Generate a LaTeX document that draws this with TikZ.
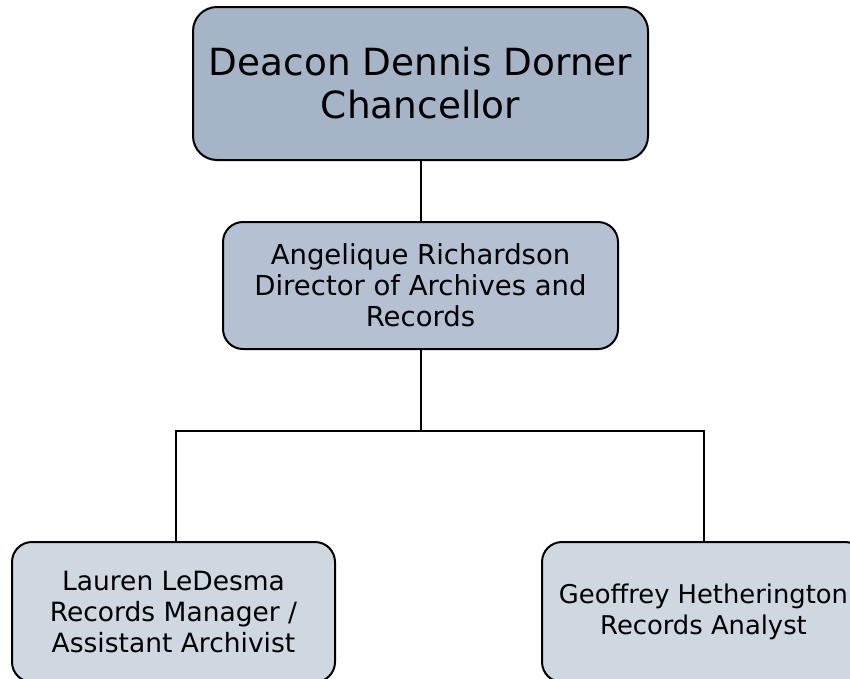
\documentclass[tikz,border=0pt]{standalone}
\usepackage{fontspec}
\setmainfont{DejaVu Sans}
\definecolor{topfill}{RGB}{166,180,200}
\definecolor{midfill}{RGB}{181,193,210}
\definecolor{lowfill}{RGB}{207,215,225}
\begin{document}
\begin{tikzpicture}[x=1pt,y=-1pt,
  box/.style={draw=black,line width=2pt,rounded corners=24pt,align=center,inner sep=0pt},
  conn/.style={draw=black,line width=2pt}]
\useasboundingbox (0,0) rectangle (850,678);
\clip (0,0) rectangle (850,678);
\node[box,fill=topfill,minimum width=455pt,minimum height=153pt,font=\fontsize{37.4}{43}\selectfont] (top) at (420.5,83.5) {Deacon Dennis Dorner\\Chancellor};
\node[box,fill=midfill,minimum width=395pt,minimum height=127pt,rounded corners=20pt,font=\fontsize{27.5}{31}\selectfont] (mid) at (420.5,285.5) {Angelique Richardson\\Director of Archives and\\Records};
\node[box,fill=lowfill,minimum width=323pt,minimum height=140pt,rounded corners=20pt,font=\fontsize{26.5}{31}\selectfont] (left) at (173.5,612) {Lauren LeDesma\\Records Manager /\\Assistant Archivist};
\node[box,fill=lowfill,minimum width=323pt,minimum height=140pt,rounded corners=20pt,font=\fontsize{25.8}{31}\selectfont] (right) at (703.5,612) {Geoffrey Hetherington\\Records Analyst};
\coordinate (j) at (420.5,431);
\draw[conn] (top.south) -- (mid.north);
\draw[conn] (mid.south) -- (j);
\draw[conn] (j) -| (left.north -| 176,0);
\draw[conn] (j) -| (right.north);
\end{tikzpicture}
\end{document}
